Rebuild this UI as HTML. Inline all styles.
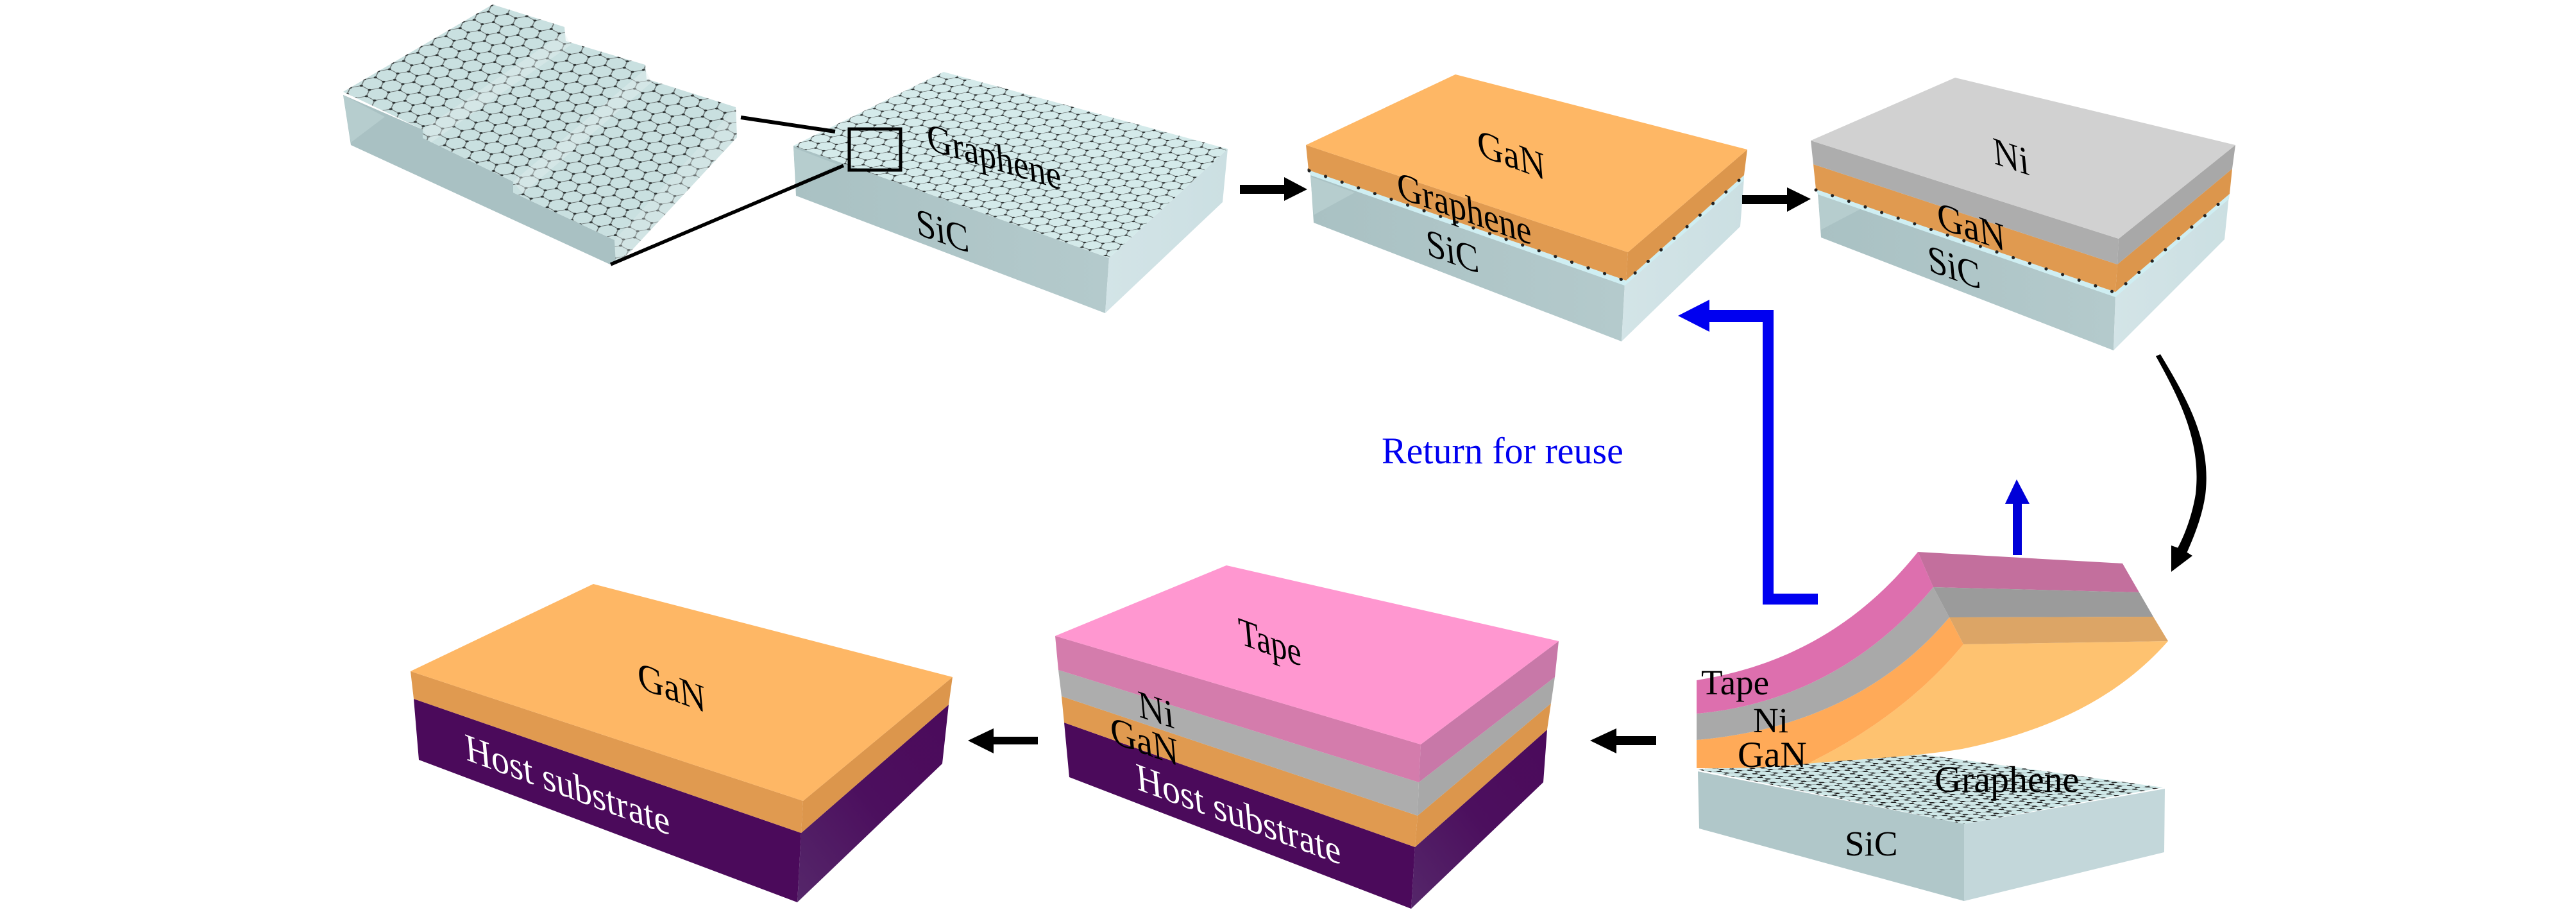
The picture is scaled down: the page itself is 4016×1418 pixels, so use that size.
<!DOCTYPE html>
<html><head><meta charset="utf-8"><style>
html,body{margin:0;padding:0;background:#fff}
svg{display:block}
text{font-family:"Liberation Serif",serif;font-size:56px;fill:#000}
</style></head><body>
<svg width="4016" height="1418" viewBox="0 0 4016 1418" xmlns="http://www.w3.org/2000/svg">
<defs>
<g id="hexl">
<path d="M0,8.66L5,0L15,0L20,8.66L30,8.66M20,8.66L15,17.32L5,17.32L0,8.66" fill="none" stroke="#6a7272" stroke-width=".9"/>
<g fill="#2c3232"><circle cx="0" cy="8.66" r="1.5"/><circle cx="30" cy="8.66" r="1.5"/><circle cx="5" cy="0" r="1.5"/><circle cx="15" cy="0" r="1.5"/><circle cx="20" cy="8.66" r="1.5"/><circle cx="5" cy="17.32" r="1.5"/><circle cx="15" cy="17.32" r="1.5"/></g>
</g>
<pattern id="h1" patternUnits="userSpaceOnUse" width="30" height="17.32" patternTransform="matrix(1.233,.433,1.155,-.577,1237,227)"><rect width="30" height="17.32" fill="#d4eaea"/><use href="#hexl"/></pattern>
<pattern id="h0" patternUnits="userSpaceOnUse" width="30" height="17.32" patternTransform="matrix(1.267,.667,1.27,-.74,535,143)"><rect width="30" height="17.32" fill="#c9e0e0"/><use href="#hexl"/></pattern>
<pattern id="h2" patternUnits="userSpaceOnUse" width="30" height="17.32" patternTransform="matrix(1.2,.247,1.155,-.214,2646,1199)">
<rect width="30" height="17.32" fill="#cfe8e8"/>
<path d="M0,8.66L5,0L15,0L20,8.66L30,8.66M20,8.66L15,17.32L5,17.32L0,8.66" fill="none" stroke="#6a7272" stroke-width="1"/>
<g fill="#1e1e1e"><circle cx="0" cy="8.66" r="2.7"/><circle cx="30" cy="8.66" r="2.7"/><circle cx="5" cy="0" r="2.7"/><circle cx="15" cy="0" r="2.7"/><circle cx="20" cy="8.66" r="2.7"/><circle cx="5" cy="17.32" r="2.7"/><circle cx="15" cy="17.32" r="2.7"/></g>
</pattern>
<linearGradient id="sl" x1="0" y1="0" x2="1" y2="0"><stop offset="0" stop-color="#a9c1c3"/><stop offset="1" stop-color="#b4cacc"/></linearGradient>
<linearGradient id="sr" x1="0" y1="0" x2="1" y2="0"><stop offset="0" stop-color="#d3e4e7"/><stop offset="1" stop-color="#cbdfe2"/></linearGradient>
<linearGradient id="pr" x1="0" y1="1" x2="1" y2="0"><stop offset="0" stop-color="#55276a"/><stop offset=".5" stop-color="#4c0f5e"/><stop offset="1" stop-color="#4b0a5b"/></linearGradient>
</defs>

<!-- Block 0 stepped graphene -->
<polygon points="535,148 547,226 951,412 962,405 958,374 800,300 800,283 659,215 659,202" fill="#a9c1c3"/>
<polygon points="535,148 600,182 547,222" fill="#b6cdce"/>
<polygon points="535,143 768,7 880,42 882,64 1006,101 1008,123 1147,167 1149,214 983,392 960,411 958,374 800,300 800,283 659,215 659,202" fill="url(#h0)"/>
<polygon points="659,202 880,50 890,70 672,222" fill="#e6f1f1" opacity=".4"/>
<polygon points="800,283 1006,108 1016,128 815,302" fill="#e6f1f1" opacity=".4"/>
<polygon points="1147,167 1149,214 983,392 960,411 958,374" fill="#dfecec" opacity=".35"/>

<!-- Block 1 -->
<polygon points="1237,227 1729,402 1723,488 1241,305" fill="url(#sl)"/>
<polygon points="1237,230 1305,256 1241,290" fill="#b6cdce"/>
<polygon points="1729,402 1914,232 1906,315 1723,488" fill="url(#sr)"/>
<polygon points="1237,227 1471,112 1914,232 1729,402" fill="url(#h1)"/>
<line x1="1155" y1="183" x2="1302" y2="205" stroke="#000" stroke-width="6"/>
<line x1="952" y1="412" x2="1315" y2="258" stroke="#000" stroke-width="5.5"/>
<rect x="1324" y="201" width="80" height="64" fill="none" stroke="#000" stroke-width="5"/>
<text transform="matrix(.96,.29,.1,1.1,1447,233)">Graphene</text>
<text transform="matrix(.98,.35,.1,1.1,1430,365)">SiC</text>

<!-- Arrow 1 -->
<polygon points="1933,288 2002,288 2002,276 2038,295 2002,313 2002,302 1933,302" fill="#000"/>

<!-- Block 2 -->
<polygon points="2043,270 2533,442 2528,532 2048,347" fill="url(#sl)"/>
<polygon points="2043,275 2112,300 2048,335" fill="#b6cdce"/>
<polygon points="2533,442 2719,278 2713,353 2528,532" fill="url(#sr)"/>
<polygon points="2040,264 2535,437 2533,445 2043,273" fill="#cfeef2"/>
<polygon points="2535,437 2719,273 2719,281 2533,445" fill="#cfeef2"/>
<polyline points="2041,264 2535,437 2719,273" fill="none" stroke="#222" stroke-width="5" stroke-linecap="round" stroke-dasharray=".1 27"/>
<polygon points="2036,226 2538,393 2535,437 2040,265" fill="#e09a50"/>
<polygon points="2538,393 2724,233 2719,273 2535,437" fill="#dc964c"/>
<polygon points="2036,226 2269,116 2724,233 2538,393" fill="#feb765"/>
<polyline points="2041,266 2535,438 2719,274" fill="none" stroke="#222" stroke-width="5" stroke-linecap="round" stroke-dasharray=".1 27"/>
<text transform="matrix(1,.37,.1,1.1,2305,242)">GaN</text>
<text transform="matrix(.96,.34,.1,1.1,2180,308)">Graphene</text>
<text transform="matrix(.98,.35,.1,1.1,2225,397)">SiC</text>

<!-- Arrow 2 -->
<polygon points="2716,304 2786,304 2786,292 2823,310 2786,330 2786,318 2716,318" fill="#000"/>

<!-- Block 3 -->
<polygon points="2834,298 3298,460 3295,546 2839,370" fill="url(#sl)"/>
<polygon points="2834,303 2900,326 2839,358" fill="#b6cdce"/>
<polygon points="3298,460 3475,305 3468,373 3295,546" fill="url(#sr)"/>
<polygon points="2831,294 3298,455 3298,463 2834,303" fill="#cfeef2"/>
<polygon points="3298,455 3476,302 3475,310 3298,463" fill="#cfeef2"/>
<polygon points="2827,256 3301,412 3298,455 2831,295" fill="#e09a50"/>
<polygon points="3301,412 3480,263 3476,302 3298,455" fill="#dc964c"/>
<polyline points="2831,296 3298,456 3476,303" fill="none" stroke="#222" stroke-width="5" stroke-linecap="round" stroke-dasharray=".1 27"/>
<polygon points="2823,219 3303,372 3301,412 2827,256" fill="#adadad"/>
<polygon points="3303,372 3485,226 3480,263 3301,412" fill="#a8a8a8"/>
<polygon points="2823,219 3048,121 3485,226 3303,372" fill="#d1d1d1"/>
<text transform="matrix(1,.33,.1,1.1,3109,255)">Ni</text>
<text transform="matrix(1,.35,.1,1.1,3022,355)">GaN</text>
<text transform="matrix(.98,.35,.1,1.1,3007,422)">SiC</text>

<!-- Blue return arrow -->
<polygon points="2834,925 2765,925 2765,483 2665,483 2665,467 2616,492 2665,517 2665,502 2748,502 2748,942 2834,942" fill="#0000f0"/>
<text x="2154" y="722" style="font-size:58px;fill:#0000f0">Return for reuse</text>

<!-- Curved arrow -->
<path d="M3361,555 L3368,552 C3412,625 3448,690 3438,772 C3433,805 3421,835 3409,862 L3394,856 C3408,830 3418,800 3423,770 C3432,690 3400,625 3361,555Z" fill="#000"/>
<polygon points="3385,850 3402,856 3418,866 3385,891" fill="#000"/>

<!-- Blue up arrow -->
<polygon points="3138,865 3138,785 3126,785 3144,747 3164,785 3152,785 3152,865" fill="#0000d8"/>

<!-- SiC lower block -->
<polygon points="2647,1202 3062,1284 3062,1404 2649,1291" fill="#b0c7c9"/>
<polygon points="3062,1284 3375,1229 3374,1328 3062,1404" fill="#c3d7da"/>
<polygon points="2646,1199 2973,1172 3372,1227 3062,1284" fill="url(#h2)"/>

<!-- Peeled stack -->
<path d="M3061,1004 L3380,999 C3300,1090 3190,1140 3059,1167 C2980,1180 2890,1183 2818,1190 C2900,1150 2990,1090 3061,1004Z" fill="#fec270"/>
<path d="M2645,1153 C2800,1140 2940,1080 3039,962 L3061,1004 C2990,1090 2900,1150 2818,1190 C2760,1196 2700,1198 2645,1197Z" fill="#ffaa58"/>
<path d="M2645,1112 C2780,1100 2910,1040 3014,915 L3039,962 C2940,1080 2800,1140 2645,1153Z" fill="#a9a9a9"/>
<path d="M2645,1060 C2770,1040 2890,985 2990,860 L3014,915 C2910,1040 2780,1100 2645,1112Z" fill="#dd6fae"/>
<polygon points="2990,860 3309,878 3335,923 3014,915" fill="#c36f9d"/>
<polygon points="3014,915 3335,923 3357,961 3039,962" fill="#9b9b9b"/>
<polygon points="3039,962 3357,961 3380,999 3061,1004" fill="#dca566"/>
<text x="2652" y="1082" style="font-size:55px">Tape</text>
<text x="2733" y="1141" style="font-size:55px">Ni</text>
<text x="2709" y="1195" style="font-size:57px">GaN</text>
<text x="3016" y="1234" style="font-size:58px">Graphene</text>
<text x="2876" y="1333" style="font-size:55px">SiC</text>

<!-- Arrow to tape block -->
<polygon points="2582,1147 2520,1147 2520,1135 2479,1154 2520,1174 2520,1161 2582,1161" fill="#000"/>

<!-- Tape block -->
<polygon points="1659,1126 2206,1320 2200,1416 1667,1211" fill="#4b0a5b"/>
<polygon points="2206,1320 2412,1137 2406,1219 2200,1416" fill="url(#pr)"/>
<polygon points="1655,1085 2210,1271 2206,1320 1659,1126" fill="#e09a50"/>
<polygon points="2210,1271 2418,1096 2412,1137 2206,1320" fill="#dc964c"/>
<polygon points="1650,1044 2212,1219 2210,1271 1655,1085" fill="#adadad"/>
<polygon points="2212,1219 2424,1055 2418,1096 2210,1271" fill="#a8a8a8"/>
<polygon points="1645,991 2215,1160 2212,1219 1650,1044" fill="#d47cac"/>
<polygon points="2215,1160 2430,999 2424,1055 2212,1219" fill="#c878a8"/>
<polygon points="1645,991 1912,881 2430,999 2215,1160" fill="#ff97d0"/>
<text transform="matrix(.9,.33,.1,1.1,1933,1003)">Tape</text>
<text transform="matrix(1,.33,.1,1.1,1776,1117)">Ni</text>
<text transform="matrix(1,.35,.1,1.1,1733,1157)">GaN</text>
<text transform="matrix(1,.37,.1,1.1,1773,1230)" style="fill:#fff">Host substrate</text>

<!-- Arrow to GaN block -->
<polygon points="1618,1148 1549,1148 1549,1135 1509,1154 1549,1174 1549,1160 1618,1160" fill="#000"/>

<!-- GaN host block -->
<polygon points="645,1089 1249,1298 1243,1406 653,1184" fill="#4b0a5b"/>
<polygon points="1249,1298 1479,1098 1469,1190 1243,1406" fill="url(#pr)"/>
<polygon points="640,1046 1252,1248 1249,1298 645,1089" fill="#e09a50"/>
<polygon points="1252,1248 1485,1055 1479,1098 1249,1298" fill="#dc964c"/>
<polygon points="640,1046 925,910 1485,1055 1252,1248" fill="#feb765"/>
<text transform="matrix(1,.37,.1,1.1,996,1072)">GaN</text>
<text transform="matrix(1,.37,.1,1.1,727,1184)" style="fill:#fff">Host substrate</text>
</svg>
</body></html>
